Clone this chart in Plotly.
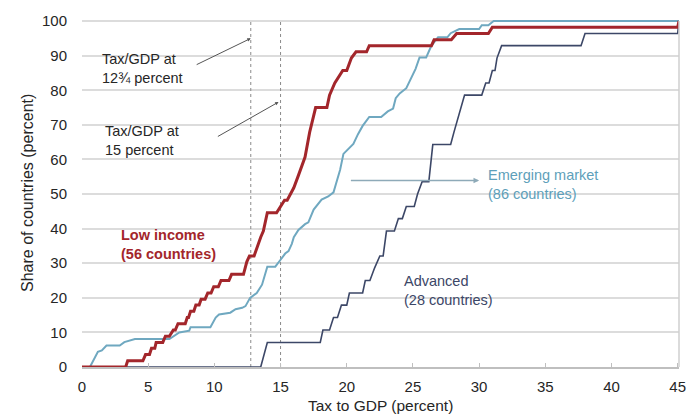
import plotly.graph_objects as go

# Cumulative share of countries (percent) by tax-to-GDP ratio (percent)
low_income_x = [0, 3.3, 3.45, 4.6, 4.8, 5.1, 5.25, 5.5, 5.6, 6.1, 6.3, 6.6, 6.9, 7.05, 7.25,
                7.8, 7.95, 8.05, 8.2, 8.45, 8.6, 8.85, 9.0, 9.3, 9.5, 9.75, 9.95, 10.3, 10.5,
                11.1, 11.3, 12.2, 12.45, 12.65, 13.0, 13.3, 13.5, 13.7, 14.0, 14.7, 15.0, 15.3,
                15.5, 16.0, 16.35, 16.85, 17.2, 17.65, 18.5, 18.7, 19.1, 19.7, 20.0, 20.35,
                20.7, 21.5, 21.7, 26.4, 26.6, 27.9, 28.3, 30.7, 31.0, 45.0, 45.1]
low_income_y = [0, 0, 1.8, 1.8, 3.6, 3.6, 5.4, 5.4, 7.1, 7.1, 8.9, 8.9, 10.7, 10.7, 12.5,
                12.5, 14.3, 14.3, 16.1, 16.1, 17.9, 17.9, 19.6, 19.6, 21.4, 21.4, 23.2, 23.2, 25.0,
                25.0, 26.8, 26.8, 30.4, 32.1, 32.1, 35.7, 37.5, 39.3, 44.6, 44.6, 46.4, 48.2,
                48.2, 51.8, 55.4, 60.7, 67.9, 75.0, 75.0, 78.6, 82.1, 85.7, 85.7, 89.3,
                91.1, 91.1, 92.9, 92.9, 94.6, 94.6, 96.4, 96.4, 98.2, 98.2, 100]

emerging_x = [0, 0.6, 1.2, 1.5, 1.85, 2.85, 3.2, 4.0, 6.6, 7.1, 7.35, 8.1, 8.2, 9.7, 10.1,
              10.35, 11.2, 11.6, 12.1, 12.35, 12.7, 13.2, 13.6, 14.0, 14.6, 15.0, 15.35, 15.6,
              15.85, 16.0, 16.35, 16.85, 17.1, 17.5, 18.1, 18.6, 19.0, 19.2, 19.5, 19.75, 20.1,
              20.5, 20.85, 21.2, 21.7, 22.6, 23.1, 23.5, 23.7, 24.0, 24.5, 24.85, 25.2, 25.5,
              26.0, 26.4, 26.9, 27.6, 27.85, 28.5, 30.0, 30.2, 30.7, 31.1, 45.1]
emerging_y = [0, 0, 4.4, 4.8, 6.2, 6.2, 7.2, 8.1, 8.1, 9.5, 10.0, 10.5, 11.5, 11.5, 14.3,
              15.2, 15.7, 16.7, 17.1, 17.6, 20.0, 21.4, 23.8, 29.0, 29.0, 31.0, 32.8, 33.5,
              35.6, 37.5, 39.6, 41.3, 41.8, 45.5, 48.4, 49.3, 50.5, 53.1, 57.0, 61.6, 63.1,
              64.5, 67.3, 69.7, 72.3, 72.3, 73.9, 74.7, 77.7, 79.1, 80.6, 83.4, 86.2, 89.5,
              89.5, 92.9, 95.3, 95.3, 96.5, 97.7, 97.7, 98.8, 98.8, 100, 100]

advanced_x = [0, 13.5, 14.0, 18.0, 18.2, 18.7, 19.0, 19.3, 19.6, 20.0, 20.2, 21.2, 21.4,
              21.75, 22.1, 22.5, 22.75, 23.0, 23.6, 23.9, 24.2, 24.5, 25.1, 25.35, 25.7, 26.2,
              26.5, 27.85, 28.1, 28.9, 30.2, 30.5, 30.75, 31.0, 31.2, 31.35, 31.7, 37.7, 38.0,
              45.0, 45.1]
advanced_y = [0, 0, 7.1, 7.1, 10.7, 10.7, 14.3, 14.3, 17.9, 17.9, 21.4, 21.4, 25.0,
              25.0, 28.6, 32.1, 32.1, 39.3, 39.3, 42.9, 42.9, 46.4, 46.4, 50.0, 53.6, 53.6,
              64.3, 64.3, 67.9, 78.6, 78.6, 82.1, 82.1, 85.7, 85.7, 89.3, 92.9, 92.9, 96.4,
              96.4, 100]

thresholds = [12.75, 15]
x_ticks = [0, 5, 10, 15, 20, 25, 30, 35, 40, 45]
y_ticks = [0, 10, 20, 30, 40, 50, 60, 70, 80, 90, 100]

RED = "#a3262b"
BLUE = "#6fa8c0"
BLUE_TEXT = "#5e9fba"
NAVY = "#3c4767"
FONT = "Liberation Sans, Arial, sans-serif"

fig = go.Figure()

# Reference lines at the two tax/GDP thresholds
for t in thresholds:
    fig.add_trace(go.Scatter(x=[t, t], y=[0, 100], mode="lines",
                             line=dict(color="#8a8a8a", width=1, dash="dot"),
                             hoverinfo="skip"))

fig.add_trace(go.Scatter(x=emerging_x, y=emerging_y, mode="lines",
                         line=dict(color=BLUE, width=2), name="Emerging market"))
fig.add_trace(go.Scatter(x=advanced_x, y=advanced_y, mode="lines",
                         line=dict(color=NAVY, width=1.6), name="Advanced"))
fig.add_trace(go.Scatter(x=low_income_x, y=low_income_y, mode="lines",
                         line=dict(color=RED, width=3), name="Low income"))

txt = dict(font=dict(family=FONT, size=14.5, color="#262626"), showarrow=False,
           xanchor="left", yanchor="middle", align="left")

annotations = [
    dict(x=1.35, y=86.2, text="Tax/GDP at<br>12¾ percent", **txt),
    dict(x=1.55, y=65.5, text="Tax/GDP at<br>15 percent", **txt),
    dict(x=2.8, y=35.5, text="<b>Low income<br>(56 countries)</b>",
         **{**txt, "font": dict(family=FONT, size=14.5, color=RED)}),
    dict(x=30.55, y=52.8, text="Emerging market<br>(86 countries)",
         **{**txt, "font": dict(family=FONT, size=14.5, color=BLUE_TEXT)}),
    dict(x=24.15, y=22.2, text="Advanced<br>(28 countries)",
         **{**txt, "font": dict(family=FONT, size=14.5, color=NAVY)}),
    # pointers
    dict(x=thresholds[0], y=95, ax=8.55, ay=87.2, xref="x", yref="y", axref="x", ayref="y",
         showarrow=True, arrowhead=2, arrowsize=0.7, arrowwidth=1, arrowcolor="#555555", text=""),
    dict(x=thresholds[1] - 0.15, y=76.6, ax=10.15, ay=66.4, xref="x", yref="y", axref="x",
         ayref="y", showarrow=True, arrowhead=2, arrowsize=0.7, arrowwidth=1,
         arrowcolor="#555555", text=""),
    dict(x=30.0, y=53.9, ax=20.2, ay=53.9, xref="x", yref="y", axref="x", ayref="y",
         showarrow=True, arrowhead=2, arrowsize=0.7, arrowwidth=1.6, arrowcolor="#8eaab8",
         text=""),
    # axis titles
    dict(x=0.5, y=0, xref="paper", yref="paper", yshift=-38, showarrow=False,
         text="Tax to GDP (percent)", font=dict(family=FONT, size=15.5, color="#262626"),
         xanchor="center", yanchor="middle"),
    dict(x=0, y=0.5, xref="paper", yref="paper", xshift=-55, showarrow=False,
         text="Share of countries (percent)", textangle=-90,
         font=dict(family=FONT, size=16, color="#262626"), xanchor="center", yanchor="middle"),
]

fig.update_layout(
    width=698, height=415,
    margin=dict(l=82, r=15, t=13, b=48),
    paper_bgcolor="white", plot_bgcolor="white",
    showlegend=False,
    font=dict(family=FONT, size=15, color="#262626"),
    annotations=annotations,
    shapes=[dict(type="line", xref="paper", yref="y", x0=1, x1=1, y0=0, y1=100,
                 line=dict(color="#cfcfcf", width=1.5))],
)

fig.update_xaxes(range=[0, 45.1], tickvals=x_ticks, ticks="inside", ticklen=4,
                 tickcolor="#bfbfbf", showgrid=False, zeroline=False, showline=True,
                 linecolor="#bfbfbf", linewidth=1.5, ticklabelstandoff=5,
                 tickfont=dict(family=FONT, size=15, color="#262626"))
fig.update_yaxes(range=[0, 100.6], tickvals=y_ticks, ticks="", showgrid=True,
                 gridcolor="#dcdcdc", gridwidth=1.5, zeroline=False, showline=False,
                 ticklabelstandoff=14,
                 tickfont=dict(family=FONT, size=15, color="#262626"))

fig.write_html("out.html")
